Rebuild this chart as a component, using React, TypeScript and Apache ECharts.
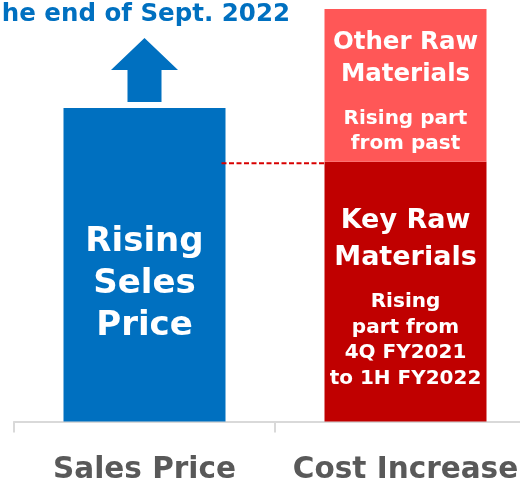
import React, { useEffect, useRef } from "react";
import * as echarts from "echarts";

const categories = ["Sales Price", "Cost Increase"];
const salesPrice: (number | string)[] = [76, "-"];
const keyRawMaterials: (number | string)[] = ["-", 63];
const otherRawMaterials: (number | string)[] = ["-", 37];
const titleText = "he end of Sept. 2022";
const salesLabel = ["Rising", "Seles", "Price"];
const keyHead = ["Key Raw", "Materials"];
const keySub = ["Rising", "part from", "4Q FY2021", "to 1H FY2022"];
const otherHead = ["Other Raw", "Materials"];
const otherSub = ["Rising part", "from past"];

const FONT = "'DejaVu Sans', sans-serif";
const BAR_W = 162;

export default function App() {
  const ref = useRef<HTMLDivElement>(null);
  useEffect(() => {
    if (!ref.current) return;
    const chart = echarts.init(ref.current, null, { renderer: "svg" });
    const richText = (head: string[], sub: string[]) =>
      head.map((h) => `{a|${h}}`).join("\n") +
      "\n{s| }\n" +
      sub.map((s) => `{b|${s}}`).join("\n");
    chart.setOption({
      animation: false,
      grid: {
        left: 14,
        right: -16,
        top: 9,
        bottom: 58.5,
        containLabel: false,
        outerBoundsMode: "none",
      },
      xAxis: {
        type: "category",
        data: categories,
        boundaryGap: true,
        axisLine: { show: true, lineStyle: { color: "#D9D9D9", width: 2 } },
        axisTick: {
          show: true,
          alignWithLabel: false,
          interval: 0,
          length: 11,
          lineStyle: { color: "#D9D9D9", width: 2 },
        },
        axisLabel: {
          interval: 0,
          hideOverlap: false,
          color: "#595959",
          fontFamily: FONT,
          fontWeight: "bold",
          fontSize: 29.5,
          margin: 31,
        },
      },
      yAxis: {
        type: "value",
        min: 0,
        max: 100,
        show: false,
        splitLine: { show: false },
      },
      series: [
        {
          name: "Sales Price",
          type: "bar",
          stack: "total",
          barWidth: BAR_W,
          data: salesPrice,
          itemStyle: { color: "#0070C0" },
          label: {
            show: true,
            position: "inside",
            offset: [0, 16],
            formatter: salesLabel.join("\n"),
            color: "#fff",
            fontFamily: FONT,
            fontWeight: "bold",
            fontSize: 34,
            lineHeight: 42,
          },
          markPoint: {
            symbol:
              "path://M33.5,0 L67,32 L50.5,32 L50.5,64 L16.5,64 L16.5,32 L0,32 Z",
            symbolSize: [67, 64],
            symbolKeepAspect: false,
            itemStyle: { color: "#0070C0" },
            label: { show: false },
            data: [{ coord: [0, salesPrice[0]], symbolOffset: [0, -38] }],
          },
        },
        {
          name: "Key Raw Materials",
          type: "bar",
          stack: "total",
          barWidth: BAR_W,
          data: keyRawMaterials,
          itemStyle: { color: "#C00000" },
          label: {
            show: true,
            position: "inside",
            offset: [0, 3],
            formatter: richText(keyHead, keySub),
            color: "#fff",
            fontFamily: FONT,
            fontWeight: "bold",
            rich: {
              a: { fontSize: 27, lineHeight: 37, fontWeight: "bold", color: "#fff", fontFamily: FONT },
              s: { fontSize: 4, lineHeight: 14, color: "#fff" },
              b: { fontSize: 20, lineHeight: 25.5, fontWeight: "bold", color: "#fff", fontFamily: FONT },
            },
          },
        },
        {
          name: "Other Raw Materials",
          type: "bar",
          stack: "total",
          barWidth: BAR_W,
          data: otherRawMaterials,
          itemStyle: { color: "#FF5757" },
          label: {
            show: true,
            position: "inside",
            offset: [0, 4.5],
            formatter: richText(otherHead, otherSub),
            color: "#fff",
            fontFamily: FONT,
            fontWeight: "bold",
            rich: {
              a: { fontSize: 24.5, lineHeight: 32, fontWeight: "bold", color: "#fff", fontFamily: FONT },
              s: { fontSize: 4, lineHeight: 16, color: "#fff" },
              b: { fontSize: 20, lineHeight: 25, fontWeight: "bold", color: "#fff", fontFamily: FONT },
            },
          },
        },
      ],
    });
    const p0 = chart.convertToPixel({ gridIndex: 0 }, [0, keyRawMaterials[1] as number]) as number[];
    const p1 = chart.convertToPixel({ gridIndex: 0 }, [1, keyRawMaterials[1] as number]) as number[];
    chart.setOption({
      graphic: [
        {
          type: "text",
          right: 230,
          top: 0,
          style: {
            text: titleText,
            fill: "#0070C0",
            font: `bold 24.5px ${FONT}`,
          },
        },
        {
          type: "line",
          z: 100,
          shape: { x1: p0[0] + BAR_W / 2 - 4, y1: p0[1] + 1.5, x2: p1[0] - BAR_W / 2, y2: p1[1] + 1.5 },
          style: { stroke: "#D80000", lineWidth: 2, lineDash: [5, 2.5] },
        },
      ],
    });
    return () => chart.dispose();
  }, []);
  return (
    <div
      ref={ref}
      style={{ position: "fixed", left: 0, top: 0, width: 520, height: 480 }}
    />
  );
}
